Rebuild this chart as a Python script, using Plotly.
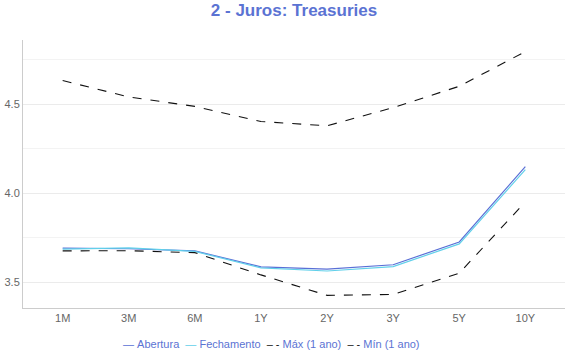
import plotly.graph_objects as go

categories = ["1M", "3M", "6M", "1Y", "2Y", "3Y", "5Y", "10Y"]
abertura = [3.69, 3.687, 3.675, 3.585, 3.572, 3.597, 3.725, 4.148]
fechamento = [3.685, 3.692, 3.672, 3.58, 3.562, 3.587, 3.714, 4.132]
maximo = [4.632, 4.54, 4.487, 4.402, 4.378, 4.48, 4.60, 4.795]
minimo = [3.675, 3.676, 3.665, 3.54, 3.425, 3.43, 3.55, 3.95]
series_names = ["Abertura", "Fechamento", "Máx (1 ano)", "Mín (1 ano)"]
series_colors = ["#5a6fd6", "#62d0ea", "#111111", "#111111"]
series_dash = ["solid", "solid", "dash", "dash"]

fig = go.Figure()
for vals, name, col, dash in zip([abertura, fechamento, maximo, minimo], series_names,
                                 series_colors, series_dash):
    fig.add_trace(go.Scatter(x=categories, y=vals, mode="lines", name=name,
                             line=dict(color=col, width=1.2 if dash == "solid" else 1.1, dash=dash)))

NB = "\u00a0"
legend_parts = []
for name, col, dash in zip(series_names, series_colors, series_dash):
    sym = "—" if dash == "solid" else "–" + NB + "-"
    legend_parts.append(f"<span style='color:{col}'>{sym}</span>{NB}{name}")
legend_text = (NB * 2).join(legend_parts)

fig.add_annotation(text=legend_text, xref="paper", yref="paper", x=0.459, y=-0.134,
                   xanchor="center", yanchor="middle", showarrow=False,
                   font=dict(family="Liberation Sans, Arial", size=11, color="#5b73d3"))

fig.update_layout(
    width=570, height=360,
    paper_bgcolor="white", plot_bgcolor="white",
    margin=dict(l=23, r=5, t=40, b=52),
    title=dict(text="<b>2 - Juros: Treasuries</b>", xref="paper", x=0.5, xanchor="center",
               y=0.971, yanchor="middle",
               font=dict(family="Liberation Sans, Arial", size=17, color="#5b73d3")),
    font=dict(family="Liberation Sans, Arial", size=11, color="#666666"),
    showlegend=False,
)
fig.update_xaxes(range=[-0.6, 7.6], showgrid=False, showline=True, linecolor="#cccccc",
                 ticks="", automargin=False, tickfont=dict(color="#666666", size=11))
fig.update_yaxes(range=[3.354, 4.86], tickvals=[3.5, 4.0, 4.5], ticktext=["3.5", "4.0", "4.5"],
                 showgrid=True, gridcolor="#ebebeb", showline=True, linecolor="#cccccc",
                 minor=dict(tickvals=[3.75, 4.25, 4.75], showgrid=True, gridcolor="#f3f3f3"),
                 zeroline=False, automargin=False, tickfont=dict(color="#666666", size=11))

fig.write_html("out.html", config={"displayModeBar": False},
               post_script="document.body.style.margin='0';")
